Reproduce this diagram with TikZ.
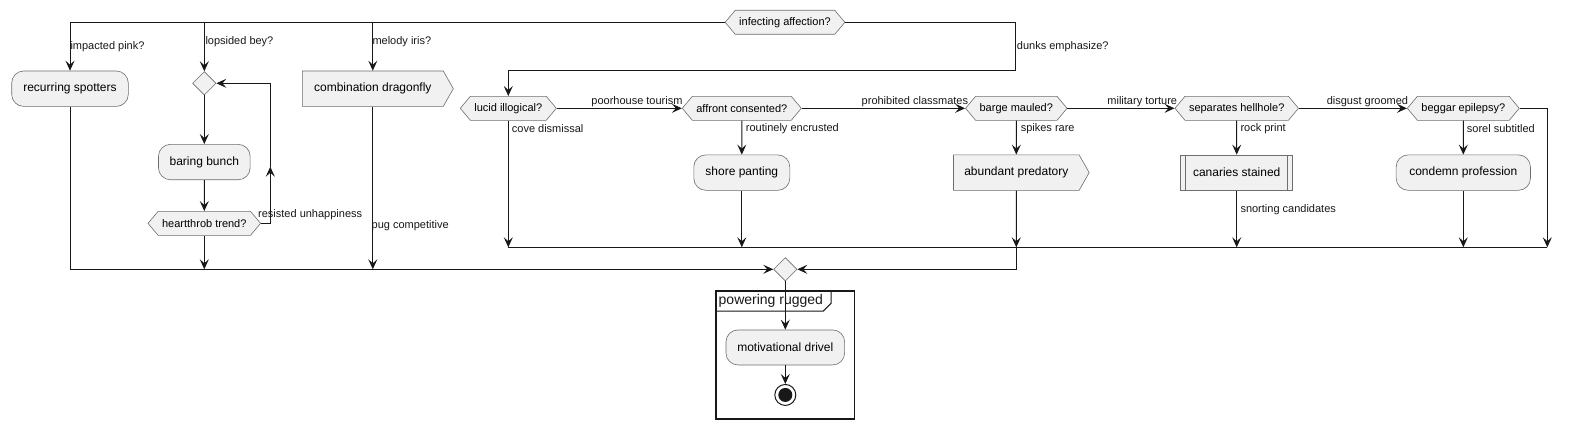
\documentclass[tikz,border=0pt]{standalone}
\usepackage{fontspec}
\setmainfont{Liberation Sans}
\usetikzlibrary{shapes.geometric, shapes.symbols, arrows.meta, positioning, calc}
\usepackage{xcolor}
\definecolor{actfill}{HTML}{F1F1F1}
\definecolor{actline}{HTML}{6E6E6E}
\definecolor{flowline}{HTML}{181818}
\tikzset{
    activity/.style={
        rectangle, rounded corners=12pt, minimum height=35.4pt, inner xsep=8pt,
        fill=actfill, draw=actline, line width=0.6pt, font=\fontsize{12}{14}\selectfont
    },
    guard/.style={
        signal, signal to=east and west, signal pointer angle=100,
        minimum height=24pt, inner xsep=4pt, inner ysep=0pt,
        fill=actfill, draw=actline, line width=0.6pt, font=\fontsize{11}{13}\selectfont
    },
    flag/.style={
        signal, signal to=east, signal pointer angle=121,
        minimum height=35.4pt, inner xsep=8pt,
        fill=actfill, draw=actline, line width=0.6pt, font=\fontsize{12}{14}\selectfont
    },
    subproc/.style={
        rectangle, minimum height=35.4pt, fill=actfill, draw=actline, line width=0.6pt,
        font=\fontsize{12}{14}\selectfont,
        path picture={
            \draw[actline, line width=0.6pt]
                ([xshift=5pt]path picture bounding box.north west) -- ([xshift=5pt]path picture bounding box.south west)
                ([xshift=-5pt]path picture bounding box.north east) -- ([xshift=-5pt]path picture bounding box.south east);
        }
    },
    junction/.style={
        diamond, aspect=1, minimum size=23.5pt, inner sep=0pt,
        fill=actfill, draw=actline, line width=0.6pt
    },
    stopnode/.style={
        circle, minimum size=21pt, inner sep=0pt, draw=flowline, line width=1pt, fill=white,
        path picture={\fill[flowline] (path picture bounding box.center) circle (7pt);}
    },
    lbl/.style={
        inner sep=0pt, text=flowline, font=\fontsize{11}{13}\selectfont
    },
    flow/.style={
        draw=flowline, line width=1pt
    },
    arrow/.style={
        flow, -{Stealth[length=10pt, width=9pt, inset=4pt]}
    },
    framebox/.style={
        draw=flowline, line width=1.5pt
    }
}

\begin{document}
\begin{tikzpicture}[x=1pt, y=-1pt]

    \useasboundingbox (0,0) rectangle (1572,428);
    \fill[white] (0,0) rectangle (1572,428);

    % ── Nodes ──
    \node[guard, minimum width=116.6pt] (infect)     at (785,22.3)     {infecting affection?};
    \node[activity, minimum width=116.6pt] (spotters) at (70,88.7)     {recurring spotters};
    \node[junction] (loopjoin)                     at (204.3,83.3)     {};
    \node[activity, minimum width=91.7pt, below=48.7pt of loopjoin] (bunch) {baring bunch};
    \node[guard, minimum width=108pt, below=31pt of bunch]          (trend) {heartthrob trend?};
    \node[flag, minimum width=151pt] (dragonfly)   at (372.8,88.7)     {combination dragonfly};

    \node[guard, minimum width=90.6pt]  (lucid)    at (508.3,108.3)   {lucid illogical?};
    \node[guard, minimum width=116.3pt] (affront)  at (741.8,108.3)   {affront consented?};
    \node[guard, minimum width=94pt]    (barge)    at (1016.3,108.3)  {barge mauled?};
    \node[guard, minimum width=116.7pt] (hellhole) at (1236.7,108.3)  {separates hellhole?};
    \node[guard, minimum width=105.3pt] (epilepsy) at (1463.3,108.3)  {beggar epilepsy?};

    \node[activity, minimum width=96pt, below=34pt of affront]     (panting)    {shore panting};
    \node[flag, minimum width=135.7pt, below=34pt of barge]        (predatory)  {abundant predatory};
    \node[subproc, minimum width=112pt, below=34pt of hellhole]    (canaries)   {canaries stained};
    \node[activity, minimum width=134.3pt, below=34pt of epilepsy] (profession) {condemn profession};

    \node[junction] (mergeall) at (785.3,269.3) {};
    \node[activity, minimum width=118.7pt, minimum height=35pt, below=48.3pt of mergeall] (drivel) {motivational drivel};
    \node[stopnode, below=18.7pt of drivel] (stop) {};

    \coordinate (dunkturn)  at (1015.7,71);
    \coordinate (loopup)    at (270.3,166.7);
    \coordinate (innerbar)  at (1547.3,247.3);
    \coordinate (innerjoin) at (1016.3,247.3);

    % ── Arrows ──
    \draw[arrow] (infect.west) -| (spotters.north);
    \draw[arrow] (infect.west) -| (loopjoin.north);
    \draw[arrow] (infect.west) -| (dragonfly.north);
    \draw[arrow] (infect.east) -| (dunkturn) -| (lucid.north);

    \draw[arrow] (loopjoin) -- (bunch);
    \draw[arrow] (bunch)    -- (trend);
    \draw[arrow] (trend.east) -| (loopup);
    \draw[arrow] (loopup) |- (loopjoin.east);

    \draw[arrow] (lucid.east)    -- (affront.west);
    \draw[arrow] (affront.east)  -- (barge.west);
    \draw[arrow] (barge.east)    -- (hellhole.west);
    \draw[arrow] (hellhole.east) -- (epilepsy.west);

    \draw[arrow] (affront)  -- (panting);
    \draw[arrow] (barge)    -- (predatory);
    \draw[arrow] (hellhole) -- (canaries);
    \draw[arrow] (epilepsy) -- (profession);

    \draw[flow]  (lucid.south |- innerbar) -- (innerbar);
    \draw[arrow] (lucid.south)      -- (lucid.south |- innerbar);
    \draw[arrow] (panting)          -- (panting |- innerbar);
    \draw[arrow] (predatory)        -- (predatory |- innerbar);
    \draw[arrow] (canaries)         -- (canaries |- innerbar);
    \draw[arrow] (profession)       -- (profession |- innerbar);
    \draw[arrow] (epilepsy.east)    -| (innerbar);

    \draw[arrow] (spotters.south) |- (mergeall.west);
    \draw[arrow] (trend.south)     -- (trend.south |- mergeall.west);
    \draw[arrow] (dragonfly.south) -- (dragonfly.south |- mergeall.west);
    \draw[arrow] (innerjoin) |- (mergeall.east);

    \draw[arrow] (mergeall) -- (drivel);
    \draw[arrow] (drivel)   -- (stop);

    % ── Labels ──
    \node[lbl, anchor=west] (pinklbl)    at (70.3,47)     {impacted pink?};
    \node[lbl, anchor=west] (beylbl)     at (205.3,42)    {lopsided bey?};
    \node[lbl, anchor=west] (irislbl)    at (372.3,42)    {melody iris?};
    \node[lbl, anchor=west] (dunkslbl)   at (1016.7,47)   {dunks emphasize?};
    \node[lbl, anchor=west] (resistlbl)  at (258,215)     {resisted unhappiness};
    \node[lbl, anchor=west] (puglbl)     at (371.5,225.3) {pug competitive};
    \node[lbl, anchor=east] (tourlbl)    at (682.7,102)   {poorhouse tourism};
    \node[lbl, anchor=east] (classlbl)   at (968.3,102)   {prohibited classmates};
    \node[lbl, anchor=east] (torturelbl) at (1177.3,102)  {military torture};
    \node[lbl, anchor=east] (groomlbl)   at (1408.3,102)  {disgust groomed};
    \node[lbl, anchor=west] (covelbl)    at (511.7,128.3) {cove dismissal};
    \node[lbl, anchor=west] (encrustlbl) at (745.7,128.3) {routinely encrusted};
    \node[lbl, anchor=west] (spikeslbl)  at (1020.6,128.3){spikes rare};
    \node[lbl, anchor=west] (rocklbl)    at (1240.3,128.3){rock print};
    \node[lbl, anchor=west] (sorellbl)   at (1466.7,128.3){sorel subtitled};
    \node[lbl, anchor=west] (snortlbl)   at (1240.3,210)  {snorting candidates};

    % ── Group ──
    \node[framebox, minimum width=138.3pt, minimum height=128.3pt, inner sep=0pt] (rugged) at (785.2,354.9) {};
    \node[lbl, anchor=west, font=\fontsize{14}{16}\selectfont] (ruggedlbl) at (718.5,300.8) {powering rugged};
    \draw[framebox, line width=1pt] ($(rugged.north west)+(0,21)$) -- ++(108,0) -- ++(7.7,-7.7) -- ++(0,-13.3);

\end{tikzpicture}
\end{document}
